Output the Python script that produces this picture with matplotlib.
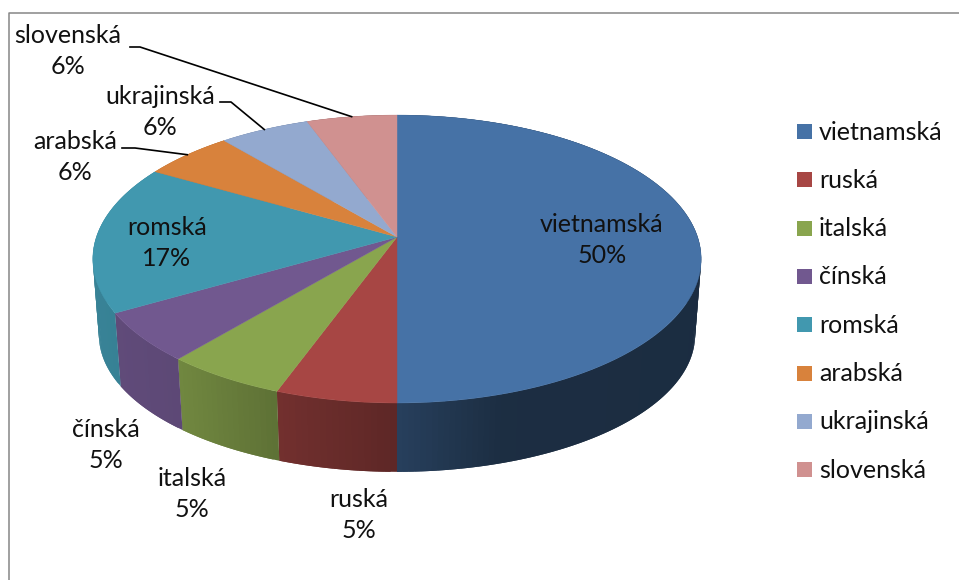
import numpy as np
import matplotlib
matplotlib.use('Agg')
import matplotlib.pyplot as plt
from matplotlib.collections import PolyCollection
from matplotlib.patches import Polygon, Rectangle

plt.rcParams['font.family'] = ['Lato', 'DejaVu Sans']

# Data
languages = ['vietnamská', 'ruská', 'italská', 'čínská', 'romská', 'arabská', 'ukrajinská', 'slovenská']
counts = [9, 1, 1, 1, 3, 1, 1, 1]
pct_labels = ['50%', '5%', '5%', '5%', '17%', '6%', '6%', '6%']
colors = ['#4672A6', '#A74644', '#89A54E', '#71588F', '#4198AF', '#D8823C', '#93A9CF', '#D09190']

# Label centres and leader lines, in pixels
label_pos = [(602, 240), (359, 515), (192, 494), (106, 445), (167, 243), (75, 157), (160, 112), (68, 51)]
leader_start = {5: [(122, 148), (135, 148)], 6: [(220, 102), (231, 102)], 7: [(130, 47), (140, 47)]}

# Pie geometry, perspective view of a circle
CX, CY = 397, 237
B, A, K = 300.6, 140.6, 0.153
WALL_SCALE, WALL_DROP = 0.951, 77


def rim(t):
    # t in radians, clockwise from the top of the pie
    u, v = np.sin(t), np.cos(t)
    d = 1 + K * v
    return CX + B * u / d, CY - A * v / d


def wall(x, y):
    return CX + (x - CX) * 0.98, CY + (y - CY) * WALL_SCALE + WALL_DROP


def shade(x):
    return np.interp(x, [92, 180, 280, 397, 500, 700], [0.86, 0.82, 0.68, 0.56, 0.40, 0.39])


def darken(col, f):
    r, g, b = matplotlib.colors.to_rgb(col)
    return (r * f, g * f, b * f)


fig = plt.figure(figsize=(9.59, 5.8), dpi=100)
ax = fig.add_axes([0, 0, 1, 1])
ax.set_xlim(0, 959)
ax.set_ylim(580, 0)
ax.axis('off')

# Chart frame (runs off the right and bottom of the crop)
ax.plot([9, 9, 959], [580, 12.5, 12.5], color='#868686', lw=1.1, solid_capstyle='butt')

edges = np.cumsum([0] + counts) / sum(counts) * 2 * np.pi

# Side wall, quads overlap by one step so no seams show
for i, col in enumerate(colors):
    ts = np.linspace(edges[i], edges[i + 1], max(int((edges[i + 1] - edges[i]) * 60), 8))
    x, y = rim(ts)
    xb, yb = wall(x, y)
    quads, fc = [], []
    for j in range(len(ts) - 1):
        k = min(j + 2, len(ts) - 1)
        quads.append([(x[j], y[j]), (x[k], y[k]), (xb[k], yb[k]), (xb[j], yb[j])])
        fc.append(darken(col, shade((x[j] + x[j + 1]) / 2)))
    ax.add_collection(PolyCollection(quads, facecolors=fc, edgecolors='none', zorder=2))

# Top face
for i, col in enumerate(colors):
    ts = np.linspace(edges[i], edges[i + 1], 100)
    x, y = rim(ts)
    pts = [(CX, CY)] + list(zip(x, y))
    ax.add_patch(Polygon(pts, closed=True, facecolor=col, edgecolor=col, lw=0.3, zorder=3))

# Leader lines end at the middle of the slice rim
for i, start in leader_start.items():
    xe, ye = rim((edges[i] + edges[i + 1]) / 2)
    xs = [p[0] for p in start] + [xe]
    ys = [p[1] for p in start] + [ye]
    ax.plot(xs, ys, color='black', lw=1.2, zorder=4)

# Data labels
for name, pct, (x, y) in zip(languages, pct_labels, label_pos):
    ax.text(x, y, name + '\n' + pct, ha='center', va='center', fontsize=18,
            linespacing=1.42, color='#111111', zorder=5)

# Legend
for i, (name, col) in enumerate(zip(languages, colors)):
    y = 131.5 + i * 48.3
    ax.add_patch(Rectangle((797, y - 7.5), 15, 15, facecolor=col, edgecolor='none'))
    ax.text(819, y + 0.5, name, ha='left', va='center', fontsize=18, color='#111111')

fig.savefig('out.png', dpi=100)
